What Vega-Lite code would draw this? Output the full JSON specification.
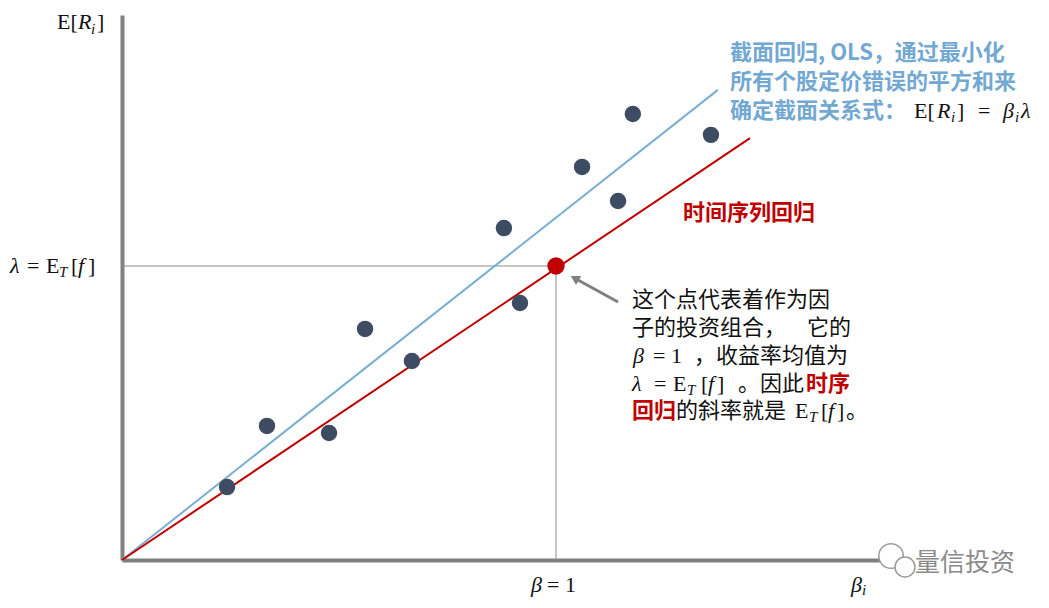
{
  "$schema": "https://vega.github.io/schema/vega-lite/v6.json",
  "width": 758,
  "height": 545,
  "autosize": {"type": "none"},
  "padding": {"left": 122, "top": 15, "right": 169, "bottom": 48},
  "background": "white",
  "config": {"view": {"stroke": null}},
  "datasets": {
    "stocks": [
      {"beta": 0.242, "ret": 0.248},
      {"beta": 0.334, "ret": 0.456},
      {"beta": 0.477, "ret": 0.432},
      {"beta": 0.560, "ret": 0.786},
      {"beta": 0.668, "ret": 0.677},
      {"beta": 0.880, "ret": 1.129},
      {"beta": 0.917, "ret": 0.874},
      {"beta": 1.060, "ret": 1.337},
      {"beta": 1.143, "ret": 1.221},
      {"beta": 1.177, "ret": 1.517},
      {"beta": 1.357, "ret": 1.446}
    ],
    "factor": [{"beta": 1, "ret": 1}],
    "csLine": [{"beta": 0, "ret": 0}, {"beta": 1.373, "ret": 1.599}],
    "tsLine": [{"beta": 0, "ret": 0}, {"beta": 1.447, "ret": 1.435}],
    "guides": [
      {"x": 0, "y": 1, "x2": 1, "y2": 1},
      {"x": 1, "y": 0, "x2": 1, "y2": 1}
    ],
    "arrow": [{"x": 1.1429, "y": 0.8776}, {"x": 1.0507, "y": 0.9524}],
    "arrowHead": [{"x": 1.0461, "y": 0.9558}],
    "mathRoman": [
      {"x": -0.1498, "y": 1.8299, "t": "E["},
      {"x": -0.0576, "y": 1.8299, "t": "]"},
      {"x": -0.2189, "y": 1.0, "t": "="},
      {"x": -0.1751, "y": 1.0, "t": "E"},
      {"x": -0.1175, "y": 1.0, "t": "["},
      {"x": -0.0783, "y": 1.0, "t": "]"},
      {"x": 0.9793, "y": -0.085, "t": "= 1"},
      {"x": 1.8249, "y": 1.5272, "t": "E["},
      {"x": 1.9240, "y": 1.5272, "t": "]"},
      {"x": 1.9724, "y": 1.5272, "t": "="},
      {"x": 1.2235, "y": 0.6939, "t": "= 1"},
      {"x": 1.2258, "y": 0.5986, "t": "="},
      {"x": 1.2696, "y": 0.5986, "t": "E"},
      {"x": 1.3341, "y": 0.5986, "t": "["},
      {"x": 1.3710, "y": 0.5986, "t": "]"},
      {"x": 1.5507, "y": 0.5068, "t": "E"},
      {"x": 1.6106, "y": 0.5068, "t": "["},
      {"x": 1.6475, "y": 0.5068, "t": "]"}
    ],
    "mathItalic": [
      {"x": -0.1014, "y": 1.8299, "t": "R"},
      {"x": -0.2581, "y": 1.0, "t": "λ"},
      {"x": -0.1014, "y": 1.0, "t": "f"},
      {"x": 0.9424, "y": -0.085, "t": "β"},
      {"x": 1.6797, "y": -0.085, "t": "β"},
      {"x": 1.8779, "y": 1.5272, "t": "R"},
      {"x": 2.0300, "y": 1.5272, "t": "β"},
      {"x": 2.0714, "y": 1.5272, "t": "λ"},
      {"x": 1.1774, "y": 0.6939, "t": "β"},
      {"x": 1.1751, "y": 0.5986, "t": "λ"},
      {"x": 1.3502, "y": 0.5986, "t": "f"},
      {"x": 1.6267, "y": 0.5068, "t": "f"}
    ],
    "mathSub": [
      {"x": -0.0714, "y": 1.8061, "t": "i"},
      {"x": -0.1452, "y": 0.9796, "t": "T"},
      {"x": 1.7051, "y": -0.102, "t": "i"},
      {"x": 1.9101, "y": 1.5068, "t": "i"},
      {"x": 2.0576, "y": 1.5068, "t": "i"},
      {"x": 1.3018, "y": 0.5782, "t": "T"},
      {"x": 1.5829, "y": 0.4864, "t": "T"}
    ],
    "blueText": [
      {"x": 1.4009, "y": 1.7245, "t": "截面回归, OLS，通过最小化"},
      {"x": 1.4009, "y": 1.6259, "t": "所有个股定价错误的平方和来"},
      {"x": 1.4009, "y": 1.5272, "t": "确定截面关系式："}
    ],
    "redText": [
      {"x": 1.2926, "y": 1.1803, "t": "时间序列回归"},
      {"x": 1.5760, "y": 0.5986, "t": "时序"},
      {"x": 1.1751, "y": 0.5068, "t": "回归"}
    ],
    "blackText": [
      {"x": 1.1751, "y": 0.8844, "t": "这个点代表着作为因"},
      {"x": 1.1751, "y": 0.7891, "t": "子的投资组合，"},
      {"x": 1.5783, "y": 0.7891, "t": "它的"},
      {"x": 1.3180, "y": 0.6939, "t": "，收益率均值为"},
      {"x": 1.4194, "y": 0.5986, "t": "。因此"},
      {"x": 1.2765, "y": 0.5068, "t": "的斜率就是"},
      {"x": 1.6682, "y": 0.5068, "t": "。"}
    ],
    "wmIcon": [
      {"x": 1.7719, "y": 0.0136, "k": "big"},
      {"x": 1.8041, "y": -0.0238, "k": "small"}
    ],
    "wmText": [{"x": 1.8272, "y": -0.0102, "t": "量信投资"}]
  },
  "layer": [
    {
      "data": {"name": "guides"},
      "mark": {"type": "rule", "color": "#8c8c8c", "strokeWidth": 1},
      "encoding": {
        "x": {"field": "x", "type": "quantitative", "scale": {"domain": [0, 1.7465], "nice": false, "zero": false},
              "axis": {"title": null, "labels": false, "ticks": false, "grid": false, "domainColor": "#808080", "domainWidth": 4}},
        "y": {"field": "y", "type": "quantitative", "scale": {"domain": [0, 1.8537], "nice": false, "zero": false},
              "axis": {"title": null, "labels": false, "ticks": false, "grid": false, "domainColor": "#808080", "domainWidth": 4}},
        "x2": {"field": "x2"},
        "y2": {"field": "y2"}
      }
    },
    {
      "data": {"name": "csLine"},
      "mark": {"type": "line", "color": "#7aaed2", "strokeWidth": 2},
      "encoding": {"x": {"field": "beta", "type": "quantitative"}, "y": {"field": "ret", "type": "quantitative"}}
    },
    {
      "data": {"name": "tsLine"},
      "mark": {"type": "line", "color": "#c00000", "strokeWidth": 2},
      "encoding": {"x": {"field": "beta", "type": "quantitative"}, "y": {"field": "ret", "type": "quantitative"}}
    },
    {
      "data": {"name": "arrow"},
      "mark": {"type": "line", "color": "#808080", "strokeWidth": 3},
      "encoding": {"x": {"field": "x", "type": "quantitative"}, "y": {"field": "y", "type": "quantitative"}}
    },
    {
      "data": {"name": "arrowHead"},
      "mark": {"type": "point", "shape": "triangle", "filled": true, "color": "#808080", "size": 110, "angle": 300, "opacity": 1},
      "encoding": {"x": {"field": "x", "type": "quantitative"}, "y": {"field": "y", "type": "quantitative"}}
    },
    {
      "data": {"name": "stocks"},
      "mark": {"type": "circle", "color": "#3e4c63", "size": 270, "opacity": 1},
      "encoding": {"x": {"field": "beta", "type": "quantitative"}, "y": {"field": "ret", "type": "quantitative"}}
    },
    {
      "data": {"name": "factor"},
      "mark": {"type": "circle", "color": "#c00000", "size": 300, "opacity": 1},
      "encoding": {"x": {"field": "beta", "type": "quantitative"}, "y": {"field": "ret", "type": "quantitative"}}
    },
    {
      "data": {"name": "mathRoman"},
      "mark": {"type": "text", "align": "left", "baseline": "middle", "font": "Liberation Serif", "fontSize": 22, "color": "#111111"},
      "encoding": {"x": {"field": "x", "type": "quantitative"}, "y": {"field": "y", "type": "quantitative"}, "text": {"field": "t"}}
    },
    {
      "data": {"name": "mathItalic"},
      "mark": {"type": "text", "align": "left", "baseline": "middle", "font": "Liberation Serif", "fontStyle": "italic", "fontSize": 22, "color": "#111111"},
      "encoding": {"x": {"field": "x", "type": "quantitative"}, "y": {"field": "y", "type": "quantitative"}, "text": {"field": "t"}}
    },
    {
      "data": {"name": "mathSub"},
      "mark": {"type": "text", "align": "left", "baseline": "middle", "font": "Liberation Serif", "fontStyle": "italic", "fontSize": 15, "color": "#111111"},
      "encoding": {"x": {"field": "x", "type": "quantitative"}, "y": {"field": "y", "type": "quantitative"}, "text": {"field": "t"}}
    },
    {
      "data": {"name": "blueText"},
      "mark": {"type": "text", "align": "left", "baseline": "middle", "font": "Noto Sans CJK SC", "fontWeight": "bold", "fontSize": 22, "color": "#72a8d2"},
      "encoding": {"x": {"field": "x", "type": "quantitative"}, "y": {"field": "y", "type": "quantitative"}, "text": {"field": "t"}}
    },
    {
      "data": {"name": "redText"},
      "mark": {"type": "text", "align": "left", "baseline": "middle", "font": "Noto Sans CJK SC", "fontWeight": "bold", "fontSize": 22, "color": "#c00000"},
      "encoding": {"x": {"field": "x", "type": "quantitative"}, "y": {"field": "y", "type": "quantitative"}, "text": {"field": "t"}}
    },
    {
      "data": {"name": "blackText"},
      "mark": {"type": "text", "align": "left", "baseline": "middle", "font": "Noto Sans CJK SC", "fontSize": 22, "color": "#111111"},
      "encoding": {"x": {"field": "x", "type": "quantitative"}, "y": {"field": "y", "type": "quantitative"}, "text": {"field": "t"}}
    },
    {
      "data": {"name": "wmIcon"},
      "mark": {"type": "point", "shape": "circle", "filled": true, "fill": "white", "stroke": "#9a9a9a", "strokeWidth": 1.5, "opacity": 1},
      "encoding": {
        "x": {"field": "x", "type": "quantitative"},
        "y": {"field": "y", "type": "quantitative"},
        "size": {"field": "k", "type": "nominal", "scale": {"domain": ["big", "small"], "range": [600, 400]}, "legend": null}
      }
    },
    {
      "data": {"name": "wmText"},
      "mark": {"type": "text", "align": "left", "baseline": "middle", "font": "Noto Sans CJK SC", "fontSize": 25, "color": "#8a8a8a"},
      "encoding": {"x": {"field": "x", "type": "quantitative"}, "y": {"field": "y", "type": "quantitative"}, "text": {"field": "t"}}
    }
  ]
}
